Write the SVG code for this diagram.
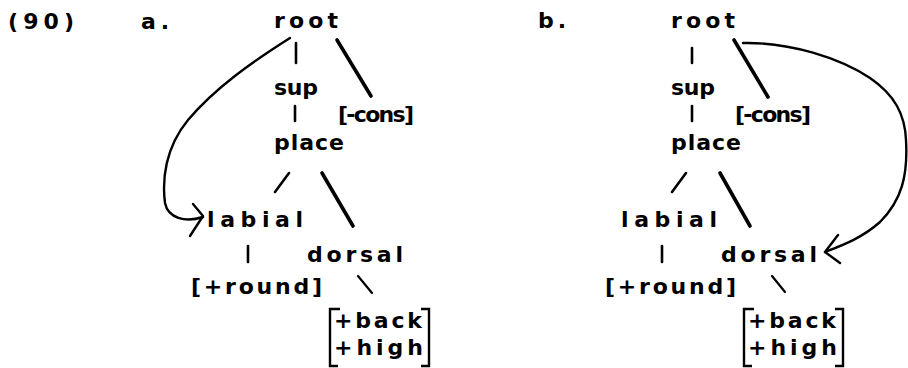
<svg xmlns="http://www.w3.org/2000/svg" width="908" height="368" viewBox="0 0 908 368">
<style>
text{font-family:"DejaVu Sans","Liberation Sans",sans-serif;font-size:22px;font-weight:bold;fill:#000}
.ln{stroke:#000;stroke-width:2.6;fill:none;stroke-linecap:round}
.th{stroke-width:3.6}
.tn{stroke-width:2.2}
.cv{stroke:#000;stroke-width:2.4;fill:none;stroke-linecap:round;stroke-linejoin:round}
.br{stroke:#000;stroke-width:2.4;fill:none}
</style>
<rect width="908" height="368" fill="#fff"/>
<g id="labels">
<text x="8" y="29" textLength="66" lengthAdjust="spacing">(90)</text>
<text x="141" y="29" textLength="28" lengthAdjust="spacing">a.</text>
<text x="538" y="28" textLength="28" lengthAdjust="spacing">b.</text>
</g>
<g id="a-root"><text x="274" y="28" textLength="64" lengthAdjust="spacing">root</text></g>
<g id="a-sup"><text x="274" y="95" textLength="44" lengthAdjust="spacing">sup</text></g>
<g id="a-cons"><text x="338" y="122" textLength="76" lengthAdjust="spacing">[-cons]</text></g>
<g id="a-place"><text x="274" y="150" textLength="70" lengthAdjust="spacing">place</text></g>
<g id="a-labial"><text x="207" y="227" textLength="96" lengthAdjust="spacing">labial</text></g>
<g id="a-dorsal"><text x="307" y="262" textLength="96" lengthAdjust="spacing">dorsal</text></g>
<g id="a-round"><text x="191" y="294" textLength="131" lengthAdjust="spacing">[+round]</text></g>
<g id="a-backhigh">
<text x="334" y="328" textLength="88" lengthAdjust="spacing">+back</text>
<text x="334" y="355" textLength="89" lengthAdjust="spacing">+high</text>
<path class="br" d="M340,309 H330 V366 H338"/>
<path class="br" d="M421,309 H429 V366 H421"/>
</g>
<g id="b-root"><text x="671" y="28" textLength="64" lengthAdjust="spacing">root</text></g>
<g id="b-sup"><text x="671" y="95" textLength="44" lengthAdjust="spacing">sup</text></g>
<g id="b-cons"><text x="735" y="122" textLength="76" lengthAdjust="spacing">[-cons]</text></g>
<g id="b-place"><text x="671" y="150" textLength="70" lengthAdjust="spacing">place</text></g>
<g id="b-labial"><text x="621" y="227" textLength="96" lengthAdjust="spacing">labial</text></g>
<g id="b-dorsal"><text x="721" y="262" textLength="96" lengthAdjust="spacing">dorsal</text></g>
<g id="b-round"><text x="605" y="294" textLength="131" lengthAdjust="spacing">[+round]</text></g>
<g id="b-backhigh">
<text x="748" y="328" textLength="88" lengthAdjust="spacing">+back</text>
<text x="748" y="355" textLength="89" lengthAdjust="spacing">+high</text>
<path class="br" d="M754,309 H744 V366 H752"/>
<path class="br" d="M835,309 H843 V366 H835"/>
</g>
<g id="connectors">
<line class="ln" x1="296" y1="43" x2="296" y2="63"/>
<line class="ln th" x1="337" y1="40" x2="371" y2="96"/>
<line class="ln" x1="295" y1="106" x2="295" y2="121"/>
<line class="ln" x1="289" y1="173" x2="275" y2="192"/>
<line class="ln th" x1="322" y1="173" x2="353" y2="226"/>
<line class="ln" x1="248" y1="246" x2="248" y2="262"/>
<line class="ln tn" x1="358" y1="276" x2="372" y2="293"/>
<path class="cv" d="M290,38 C252,62 215,88 188,120 C165,148 162,180 165,203 C168,218 185,223 203,217"/>
<path class="cv" d="M193,204 L203,216 L190,236"/>
<line class="ln" x1="692" y1="48" x2="692" y2="63"/>
<line class="ln th" x1="734" y1="40" x2="768" y2="97"/>
<line class="ln" x1="692" y1="106" x2="692" y2="121"/>
<line class="ln" x1="686" y1="173" x2="672" y2="192"/>
<line class="ln th" x1="720" y1="173" x2="750" y2="226"/>
<line class="ln" x1="662" y1="246" x2="662" y2="262"/>
<line class="ln tn" x1="772" y1="276" x2="785" y2="292"/>
<path class="cv" d="M743,43 C790,42 840,58 870,78 C895,95 905,115 906,140 C908,175 902,200 880,222 C862,238 843,245 825,252"/>
<path class="cv" d="M838,235 L825,252 L840,263"/>
</g>
</svg>
